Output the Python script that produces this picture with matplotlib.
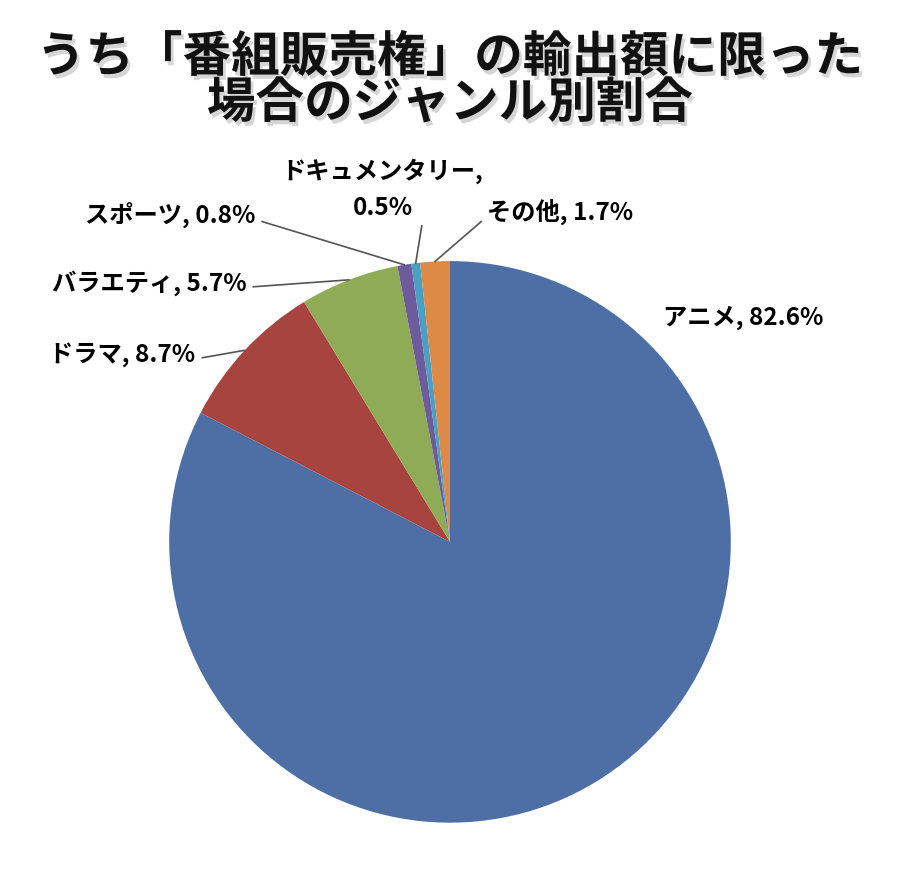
import numpy as np
import matplotlib
matplotlib.use("Agg")
import matplotlib.pyplot as plt
import matplotlib.patheffects as pe

plt.rcParams['font.family'] = ['Noto Sans CJK JP', 'DejaVu Sans']

# data
genres = ['アニメ', 'ドラマ', 'バラエティ', 'スポーツ', 'ドキュメンタリー', 'その他']
shares = [82.6, 8.7, 5.7, 0.8, 0.5, 1.7]
colors = ['#4e6fa6', '#a8443f', '#8fab56', '#6e5b9b', '#4a9fc2', '#dc8a45']
title_lines = ['うち「番組販売権」の輸出額に限った', '場合のジャンル別割合']

fig = plt.figure(figsize=(9, 8.7), dpi=100)
ax = fig.add_axes([0.5 - 0.312, 0.376 - 0.323, 0.624, 0.646])

wedges, _ = ax.pie(shares, colors=colors, startangle=90, counterclock=False,
                   radius=1, wedgeprops=dict(linewidth=0))
ax.set_xlim(-1, 1)
ax.set_ylim(-1, 1)
ax.set_aspect('equal')
ax.axis('off')

# label text placement (data coords), alignment and where the leader leaves the text
label_pos = {
    'アニメ': ((0.758, 0.80), 'left', 'center', None),
    'ドラマ': ((-0.907, 0.669), 'right', 'center', (1.0, 0.3)),
    'バラエティ': ((-0.726, 0.925), 'right', 'center', (1.0, 0.3)),
    'スポーツ': ((-0.694, 1.167), 'right', 'center', (1.0, 0.3)),
    'ドキュメンタリー': ((-0.24, 1.26), 'center', 'center', (0.7, 0.0)),
    'その他': ((0.133, 1.174), 'left', 'center', (-0.02, 0.25)),
}

for w, name, val in zip(wedges, genres, shares):
    mid = np.deg2rad((w.theta1 + w.theta2) / 2)
    edge = (np.cos(mid), np.sin(mid))
    (tx, ty), ha, va, rel = label_pos[name]
    if name == 'ドキュメンタリー':
        txt = f'{name},\n{val}%'
    else:
        txt = f'{name}, {val}%'
    if rel is None:
        ax.text(tx, ty, txt, ha=ha, va=va, fontsize=17.5, fontweight='bold')
    else:
        ax.annotate(txt, xy=edge, xytext=(tx, ty), ha=ha, va=va,
                    fontsize=17.5, fontweight='bold', linespacing=1.6,
                    annotation_clip=False,
                    arrowprops=dict(arrowstyle='-', color='#555555', lw=1.2,
                                    shrinkA=3, shrinkB=0, relpos=rel))

# title with a soft grey drop shadow
for i, line in enumerate(title_lines):
    t = fig.text(0.5, 1 - (58 + 46 * i) / 870, line, ha='center', va='center',
                 fontsize=35, fontweight='bold', color='#111111')
    t.set_path_effects([pe.SimplePatchShadow(offset=(2, -3), shadow_rgbFace='#888888', alpha=0.35),
                        pe.Normal()])

fig.savefig('out.png', dpi=100, facecolor='white')
